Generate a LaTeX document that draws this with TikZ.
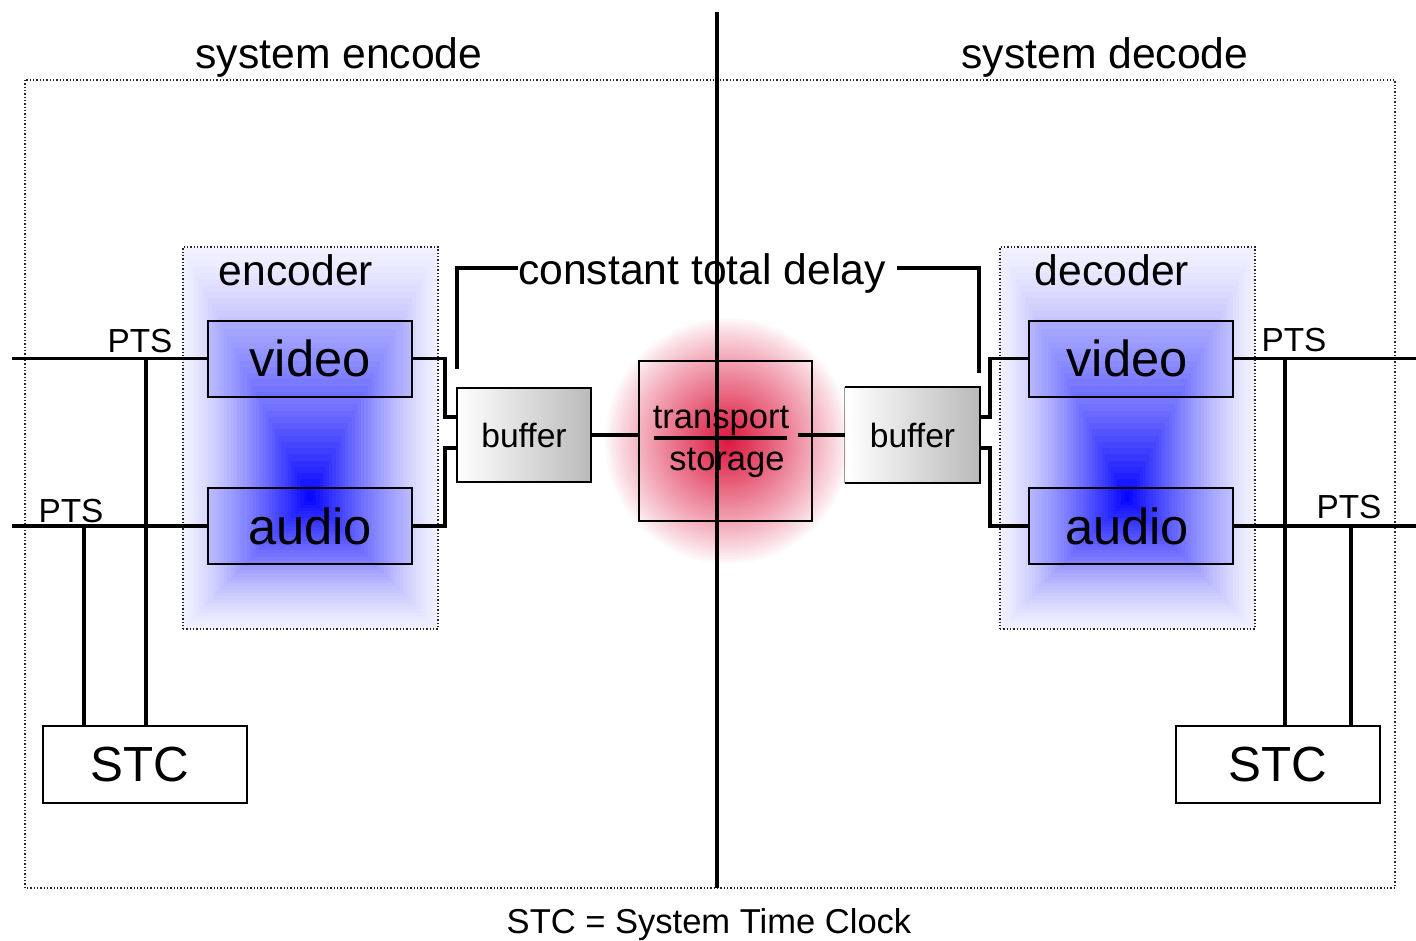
\documentclass[tikz,border=0pt]{standalone}
\usepackage{fontspec}
\setmainfont{Liberation Sans}
\usetikzlibrary{calc}
\definecolor{crim}{RGB}{220,20,60}
\newcommand{\pxf}[1]{\fontsize{#1}{#1}\selectfont}
\begin{document}
\begin{tikzpicture}[x=0.75pt,y=-0.75pt,
  conn/.style={line width=2.4pt},
  dots/.style={line width=0.9pt, dash pattern=on 0.9pt off 1.6pt, black!85},
  avbox/.style={draw, line width=1.5pt, fill=blue, fill opacity=0.12, text opacity=1,
    minimum width=153pt, minimum height=57pt, inner sep=0pt, font=\pxf{38}},
  bufbox/.style={line width=1.5pt, left color=white, right color=black!27,
    minimum width=100pt, minimum height=70.5pt, inner sep=0pt, font=\pxf{25.2}},
  stcbox/.style={draw, line width=1.5pt, fill=white, minimum width=153pt,
    minimum height=57.75pt, inner sep=0pt, font=\pxf{37}},
  grpbox/.style={draw, dots, minimum width=191.25pt, minimum height=286.5pt, inner sep=0pt},
  title/.style={anchor=base, inner sep=0pt, font=\pxf{32}},
  ptslab/.style={anchor=base, inner sep=0pt, font=\pxf{25}},
  trlab/.style={anchor=base, inner sep=0pt, font=\pxf{25.9}}
]
\useasboundingbox (0,0) rectangle (1416,940);

% outer dotted frame
\draw[dots] (25,80) rectangle (1395,888);

% blue rectangular gradients
\foreach \ox in {0,817}{
  \foreach \i in {0,...,40}{
    \pgfmathsetmacro{\t}{\i/40}
    \pgfmathsetmacro{\p}{6+94*(\t^1.35)}
    \fill[blue!\p!white] (183+\ox+127*\t, 248+250*\t) rectangle (438+\ox-128*\t, 629-131*\t);
  }
}

% red glow
\foreach \i in {0,...,49}{
  \pgfmathsetmacro{\r}{125*(1-\i/50)}
  \pgfmathsetmacro{\p}{100*((\i/50)^0.9)}
  \fill[crim!\p!white] (728,441) circle (\r);
}

% group boxes
\node[grpbox] (encbox) at (310.5,438) {};
\node[grpbox] (decbox) at (1127.5,438) {};

% titles
\node[title] (tenc) at (339,68) {system encode};
\node[title] (tdec) at (1105,68) {system decode};
\node[title] (lenc) at (296,285) {encoder};
\node[title] (ldec) at (1112,285) {decoder};
\node[title] (delay) at (702,284) {constant total delay};
\node[trlab] (foot) at (709,933) {STC = System Time Clock};

% boxes
\node[avbox] (venc) at (310,358.5) {video};
\node[avbox] (aenc) at (310,526) {audio};
\node[avbox] (vdec) at (1130.5,358.5) {\hspace*{-5pt}video};
\node[avbox] (adec) at (1130.5,526) {\hspace*{-5pt}audio};
\node[bufbox, draw] (benc) at (524,435) {buffer};
\node[bufbox] (bdec) at (912.5,435) {buffer};
\draw[line width=1.5pt] (bdec.north west) -- (bdec.north east) -- (bdec.south east) -- (bdec.south west);
\draw[black!40, line width=0.6pt] (bdec.south west) -- (bdec.north west);
\node[draw, line width=1.5pt, minimum width=129.75pt, minimum height=120pt, inner sep=0pt] (tr) at (725.5,441) {};
\node[trlab] (ttop) at (721,428) {transport};
\node[trlab] (tbot) at (727,470) {storage};
\node[stcbox] (stce) at (145,764.5) {\hspace*{-8pt}STC};
\node[stcbox] (stcd) at (1278,764.5) {STC};

% PTS labels
\node[ptslab] (pts1) at (140,352) {PTS};
\node[ptslab] (pts2) at (71,522) {PTS};
\node[ptslab] (pts3) at (1294,351) {PTS};
\node[ptslab] (pts4) at (1349,518) {PTS};

% encoder side connectors
\coordinate (inV) at (12,358.5);
\coordinate (inA) at (12,526);
\draw[conn] (inV) -- (venc.west);
\draw[conn] (inA) -- (aenc.west);
\coordinate (jv1) at (146,358.5);
\coordinate (ja1) at (84,526);
\draw[conn] (jv1) -- (jv1 |- stce.north);
\draw[conn] (ja1) -- (ja1 |- stce.north);
\draw[conn] (venc.east) -- (445,358.5) |- ([yshift=13.5pt]benc.west);
\draw[conn] (aenc.east) -- (445,526) |- ([yshift=-9.75pt]benc.west);

% transport connectors
\draw[conn] (benc.east) -- (tr.west |- benc.east);
\coordinate (tml) at (654,438);
\coordinate (tmr) at (787,438);
\draw[conn] (tml) -- (tmr);
\coordinate (tro) at (798,435);
\draw[conn] (tro) -- (bdec.west);

% decoder side connectors
\draw[conn] ([yshift=13.5pt]bdec.east) -- (990,417) |- (vdec.west);
\draw[conn] ([yshift=-9.75pt]bdec.east) -- (990,448) |- (adec.west);
\coordinate (outV) at (1416,358.5);
\coordinate (outA) at (1416,526);
\draw[conn] (vdec.east) -- (outV);
\draw[conn] (adec.east) -- (outA);
\coordinate (jv2) at (1285,358.5);
\coordinate (ja2) at (1351,526);
\draw[conn] (jv2) -- (jv2 |- stcd.north);
\draw[conn] (ja2) -- (ja2 |- stcd.north);

% constant total delay bracket
\coordinate (dl) at (457,369);
\coordinate (dr) at (979,373);
\coordinate (dre) at ($(delay.east)+(11,0)$);
\draw[conn] (dl) |- (delay.west |- 0,268);
\draw[conn] (dre |- 0,268) -| (dr);

% middle divider
\coordinate (mtop) at (717,12);
\coordinate (mbot) at (717,888);
\draw[conn] (mtop) -- (mbot);
\end{tikzpicture}
\end{document}
